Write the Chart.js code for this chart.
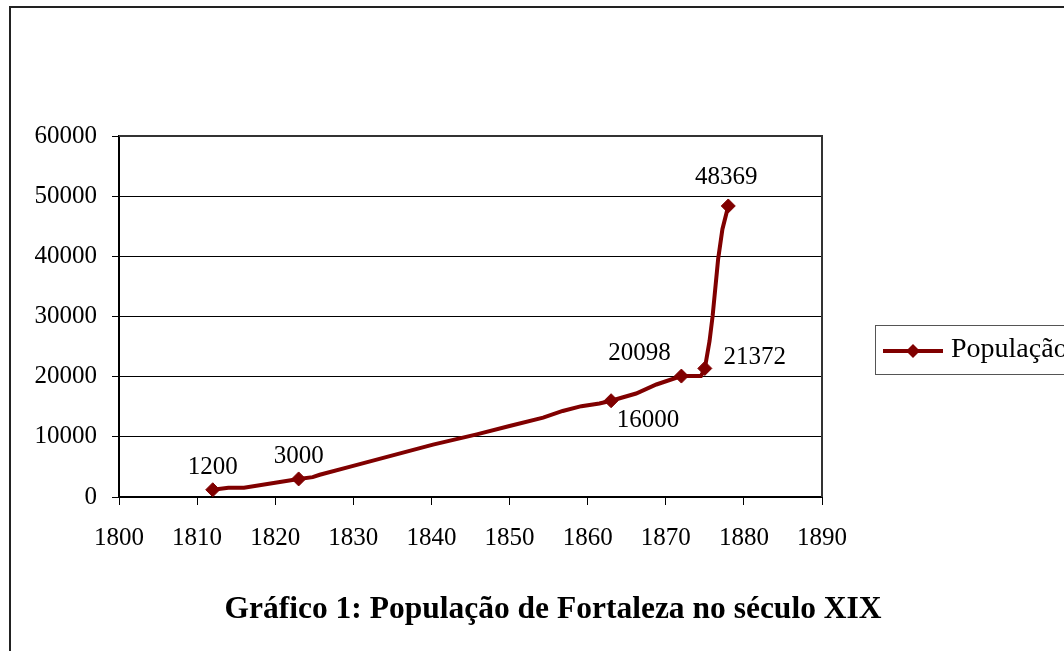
<!DOCTYPE html>
<html lang="pt-BR">
<head>
<meta charset="utf-8">
<title>Gráfico 1: População de Fortaleza no século XIX</title>
<script src="https://cdn.jsdelivr.net/npm/chart.js@4.4.0/dist/chart.umd.min.js"></script>
<style>
  html, body { margin: 0; padding: 0; background: #fff; }
  canvas { display: block; }
</style>
</head>
<body>
<canvas id="grafico-populacao" width="1064" height="651"></canvas>
<script>
// pontos (anos e habitantes); so os censos levam marcador e rotulo
const anos = [1812, 1814, 1816, 1823, 1824.8, 1825.7, 1829.5, 1840.2, 1845.8, 1850, 1854.3, 1856.8, 1859.2, 1861.5, 1863, 1866.2, 1868.8, 1872, 1874.5, 1875, 1875.6, 1876, 1876.7, 1877.25, 1878];
const populacao = [1200, 1550, 1550, 3000, 3300, 3700, 5000, 8700, 10400, 11800, 13200, 14300, 15100, 15550, 16000, 17200, 18700, 20098, 20100, 21372, 25900, 30100, 39500, 44500, 48369];
const censos = [true, false, false, true, false, false, false, false, false, false, false, false, false, false, true, false, false, true, false, true, false, false, false, false, true];
const ticksX = [1800, 1810, 1820, 1830, 1840, 1850, 1860, 1870, 1880, 1890];
const ticksY = [0, 10000, 20000, 30000, 40000, 50000, 60000];

const NOME_SERIE = 'População';
const TITULO = 'Gráfico 1: População de Fortaleza no século XIX';

const COR_LINHA = '#800000';
const FONTE = '"Liberation Serif", "Times New Roman", serif';

// deslocamento de cada rotulo em relacao ao marcador (por ano do censo)
const deslocRotulo = {
  1812: [0, -22],
  1823: [0, -23],
  1863: [37, 20],
  1872: [-42, -23],
  1875: [50, -11],
  1878: [-2, -29]
};

const pontos = anos.map((a, i) => ({ x: a, y: populacao[i] }));

function losango(ctx, x, y, r) {
  ctx.beginPath();
  ctx.moveTo(x, y - r);
  ctx.lineTo(x + r, y);
  ctx.lineTo(x, y + r);
  ctx.lineTo(x - r, y);
  ctx.closePath();
  ctx.fill();
}

const extras = {
  id: 'extras',
  beforeDraw(chart) {
    const ctx = chart.ctx;
    ctx.save();
    ctx.fillStyle = '#fff';
    ctx.fillRect(0, 0, chart.width, chart.height);
    ctx.restore();
  },
  afterDatasetsDraw(chart) {
    const ctx = chart.ctx;
    const meta = chart.getDatasetMeta(0);
    ctx.save();
    ctx.fillStyle = '#000';
    ctx.font = '25px ' + FONTE;
    ctx.textAlign = 'center';
    ctx.textBaseline = 'middle';
    meta.data.forEach((p, i) => {
      if (!censos[i]) return;
      const d = deslocRotulo[anos[i]] || [0, -22];
      ctx.fillText(String(populacao[i]), p.x + d[0], p.y + d[1]);
    });
    ctx.restore();
  },
  afterDraw(chart) {
    const ctx = chart.ctx;
    const area = chart.chartArea;
    ctx.save();

    // borda de cima e da direita da area do grafico
    ctx.strokeStyle = '#333';
    ctx.lineWidth = 2;
    ctx.beginPath();
    ctx.moveTo(area.left, area.top);
    ctx.lineTo(area.right, area.top);
    ctx.lineTo(area.right, area.bottom);
    ctx.stroke();

    // moldura externa
    ctx.strokeStyle = '#222';
    ctx.lineWidth = 2;
    ctx.strokeRect(10, 7, 1100, 700);

    // legenda
    ctx.strokeStyle = '#555';
    ctx.lineWidth = 1;
    ctx.strokeRect(875.5, 325.5, 250, 49);
    ctx.strokeStyle = COR_LINHA;
    ctx.lineWidth = 4;
    ctx.beginPath();
    ctx.moveTo(883, 351);
    ctx.lineTo(943, 351);
    ctx.stroke();
    ctx.fillStyle = COR_LINHA;
    losango(ctx, 913, 351, 7);
    ctx.fillStyle = '#000';
    ctx.font = '28px ' + FONTE;
    ctx.textAlign = 'left';
    ctx.textBaseline = 'middle';
    ctx.fillText(NOME_SERIE, 951, 350);

    // titulo embaixo
    ctx.font = 'bold 31.5px ' + FONTE;
    ctx.textAlign = 'center';
    ctx.fillText(TITULO, 553, 610);
    ctx.restore();
  }
};

new Chart(document.getElementById('grafico-populacao'), {
  type: 'scatter',
  data: {
    datasets: [{
      label: NOME_SERIE,
      data: pontos,
      showLine: true,
      borderColor: COR_LINHA,
      backgroundColor: COR_LINHA,
      borderWidth: 4,
      tension: 0,
      pointStyle: 'rectRot',
      pointRadius: ctx => censos[ctx.dataIndex] ? 7 : 0,
      pointHoverRadius: ctx => censos[ctx.dataIndex] ? 7 : 0,
      pointBorderWidth: 1,
      pointBorderColor: COR_LINHA,
      pointBackgroundColor: COR_LINHA
    }]
  },
  options: {
    responsive: false,
    animation: false,
    layout: { padding: { left: 0, top: 136, right: 242, bottom: 0 } },
    plugins: {
      legend: { display: false },
      tooltip: { enabled: false }
    },
    scales: {
      x: {
        type: 'linear',
        min: ticksX[0],
        max: ticksX[ticksX.length - 1],
        afterBuildTicks: s => { s.ticks = ticksX.map(v => ({ value: v })); },
        afterFit: s => { s.height = 154; },
        ticks: {
          color: '#000',
          font: { family: FONTE, size: 25 },
          padding: 18,
          maxRotation: 0,
          callback: v => String(v)
        },
        grid: { drawOnChartArea: false, drawTicks: true, tickLength: 8, color: '#000', lineWidth: 1 },
        border: { display: true, color: '#000', width: 2 }
      },
      y: {
        min: ticksY[0],
        max: ticksY[ticksY.length - 1],
        afterBuildTicks: s => { s.ticks = ticksY.map(v => ({ value: v })); },
        afterFit: s => { s.width = 119; },
        ticks: {
          color: '#000',
          font: { family: FONTE, size: 25 },
          padding: 15,
          callback: v => String(v)
        },
        grid: { color: '#000', lineWidth: 1, tickLength: 7 },
        border: { display: true, color: '#000', width: 2 }
      }
    }
  },
  plugins: [extras]
});
</script>
</body>
</html>
